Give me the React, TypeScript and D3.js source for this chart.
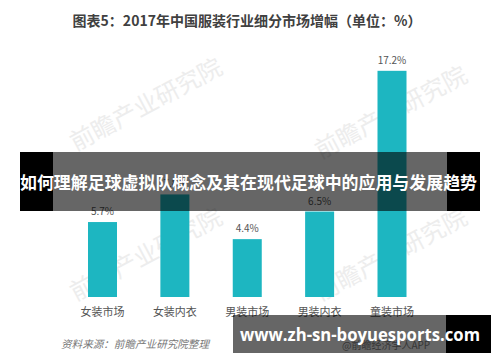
import React from "react";
import * as d3 from "d3";

const categories = ["女装市场", "女装内衣", "男装市场", "男装内衣", "童装市场"];
const values = [5.7, 7.8, 4.4, 6.5, 17.2];
const valueLabels = ["5.7%", "7.8%", "4.4%", "6.5%", "17.2%"];
const title = "图表5：2017年中国服装行业细分市场增幅（单位：%）";
const source = "资料来源：前瞻产业研究院整理";
const credit = "@前瞻经济学人APP";
const bannerText = "如何理解足球虚拟队概念及其在现代足球中的应用与发展趋势";
const urlText = "www.zh-sn-boyuesports.com";
const watermark = "前瞻产业研究院";

const W = 500;
const H = 362;
const CJK = "'Noto Sans CJK SC', 'Noto Sans', sans-serif";

export default function App() {
  const x = d3.scalePoint<string>().domain(categories).range([102.5, 392]);
  const y = d3.scaleLinear().domain([0, 18]).range([297, 297 - 18 * 13.15]);
  const barW = 29;
  const marks = [
    { x: 150, y: 112 },
    { x: 150, y: 262 },
    { x: 395, y: 120 },
    { x: 395, y: 262 },
  ];
  return (
    <div style={{ position: "fixed", left: 0, top: 0, width: W, height: H, background: "#fff" }}>
      <svg width={W} height={H} style={{ display: "block" }}>
        <rect x={0} y={0} width={W} height={H} fill="#fff" />
        {marks.map((m, i) => (
          <text
            key={"wm" + i}
            x={m.x}
            y={m.y}
            transform={`rotate(-28 ${m.x} ${m.y})`}
            textAnchor="middle"
            fontFamily={CJK}
            fontSize={24}
            fill="#ededed"
          >
            {watermark}
          </text>
        ))}
        <text x={247} y={26} textAnchor="middle" fontFamily={CJK} fontSize={14} fontWeight="bold" fill="#404040">
          {title}
        </text>
        {categories.map((c, i) => (
          <g key={c}>
            <rect
              x={(x(c) as number) - barW / 2}
              y={y(values[i])}
              width={barW}
              height={y(0) - y(values[i])}
              fill="#1db6c1"
            />
            <text
              x={x(c)}
              y={y(values[i]) - 7}
              textAnchor="middle"
              fontFamily={CJK}
              fontSize={10}
              fill="#555"
            >
              {valueLabels[i]}
            </text>
            <text x={x(c)} y={316} textAnchor="middle" fontFamily={CJK} fontSize={11} fill="#555">
              {c}
            </text>
          </g>
        ))}
        <text x={61} y={348} fontFamily={CJK} fontSize={10.5} fontStyle="italic" fill="#777" textLength={148} lengthAdjust="spacingAndGlyphs">
          {source}
        </text>
        <text x={342} y={349} fontFamily={CJK} fontSize={10} fill="#888">
          {credit}
        </text>
        <rect x={20} y={152} width={33} height={59} fill="#000" />
        <rect x={447} y={152} width={33} height={59} fill="#000" />
        <rect x={53} y={152} width={394} height={59} fill="#000" opacity={0.6} />
        <text
          x={248.5}
          y={189}
          textAnchor="middle"
          fontFamily={CJK}
          fontSize={17.5}
          fontWeight="bold"
          fill="#fff"
          textLength={457}
          lengthAdjust="spacingAndGlyphs"
        >
          {bannerText}
        </text>
        <rect x={233} y={315} width={213} height={38} fill="#000" opacity={0.6} />
        <rect x={446} y={315} width={45} height={38} fill="#000" />
        <text
          x={240}
          y={341}
          fontFamily="'Open Sans', 'Noto Sans', sans-serif"
          fontSize={17}
          fontWeight="bold"
          fill="#fff"
          textLength={240}
          lengthAdjust="spacingAndGlyphs"
        >
          {urlText}
        </text>
      </svg>
    </div>
  );
}
